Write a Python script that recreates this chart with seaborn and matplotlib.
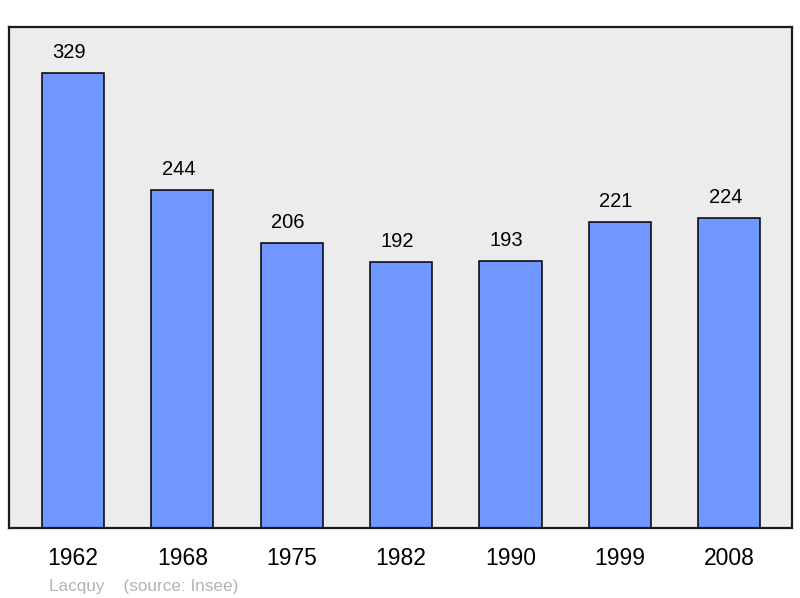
import pandas as pd
import seaborn as sns
import matplotlib.pyplot as plt

years = ['1962', '1968', '1975', '1982', '1990', '1999', '2008']
population = [329, 244, 206, 192, 193, 221, 224]

df = pd.DataFrame({'year': years, 'pop': population})

sns.set_style('white')
plt.rcParams['font.family'] = ['Liberation Sans', 'DejaVu Sans']
plt.rcParams['text.color'] = 'black'
plt.rcParams['xtick.color'] = 'black'

fig = plt.figure(figsize=(8, 5.98), dpi=100)
ax = fig.add_axes([0.01125, 0.117, 0.97875, 0.838])
ax.set_facecolor('#ececec')

sns.barplot(data=df, x='year', y='pop', color='#7096ff', saturation=1,
            width=0.57, edgecolor='black', linewidth=1.1, ax=ax)

# value labels sit a little left of the bar centre in the original
for i, v in enumerate(population):
    ax.text(i - 0.035, v + 8, str(v), ha='center', va='bottom', fontsize=14.5)

ax.set_xlim(-0.585, 6.575)
ax.set_ylim(0, 362)
ax.set_yticks([])
ax.set_xlabel('')
ax.set_ylabel('')
ax.tick_params(axis='x', length=0, pad=14, labelsize=16.5)
for s in ax.spines.values():
    s.set_linewidth(1.6)
    s.set_color('#1a1a1a')

fig.text(0.061, 0.011, 'Lacquy    (source: Insee)', color='#b3b3b3', fontsize=12.3)

plt.savefig('out.png', dpi=100)
